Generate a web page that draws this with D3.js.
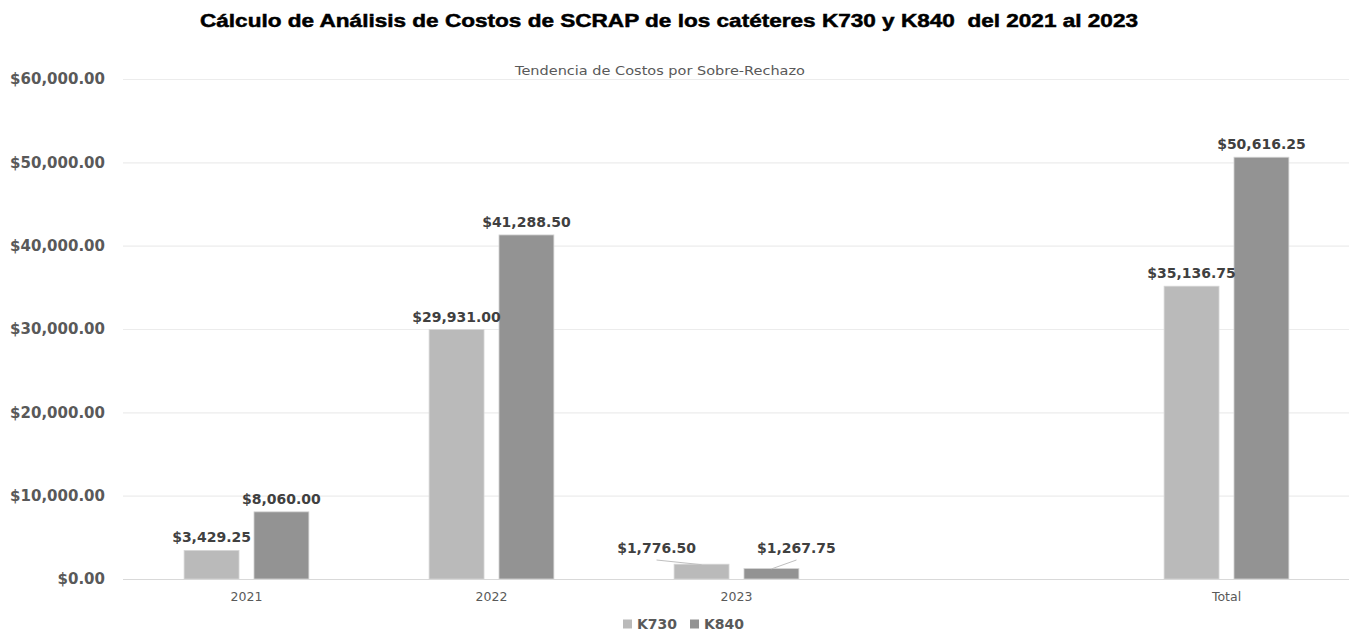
<!DOCTYPE html>
<html>
<head>
<meta charset="utf-8">
<script src="https://cdn.jsdelivr.net/npm/d3@7"></script>
<style>
  body { margin: 0; background: #fff; }
  svg { display: block; }
</style>
</head>
<body>
<div id="chart"></div>
<script>
// data
var categories = ["2021", "2022", "2023", "", "Total"];
var seriesNames = ["K730", "K840"];
var k730Values = [3429.25, 29931.00, 1776.50, null, 35136.75];
var k840Values = [8060.00, 41288.50, 1267.75, null, 50616.25];
var yTicks = [0, 10000, 20000, 30000, 40000, 50000, 60000];

var titleText = "Cálculo de Análisis de Costos de SCRAP de los catéteres K730 y K840  del 2021 al 2023";
var subtitleText = "Tendencia de Costos por Sobre-Rechazo";

var colors = { K730: "#bababa", K840: "#939393" };
// labels that sit beside small bars with a leader line
var leaderShift = { "2023": { K730: -45, K840: 25 } };

var width = 1349, height = 632;
var margin = { top: 79, right: 0, bottom: 53, left: 124 };

var svg = d3.select("#chart").append("svg")
    .attr("width", width).attr("height", height);

var x0 = d3.scaleBand().domain(categories).range([margin.left, width - margin.right]).padding(0);
var x1 = d3.scaleBand().domain(seriesNames).range([0, x0.bandwidth()])
    .paddingInner(0.214).paddingOuter(0.86);
var y = d3.scaleLinear().domain([0, 60000]).range([height - margin.bottom, margin.top]);

var money = function (v) { return "$" + d3.format(",.2f")(v); };

// gridlines
svg.append("g").selectAll("line").data(yTicks).join("line")
    .attr("x1", margin.left - 1).attr("x2", width)
    .attr("y1", function (d) { return y(d) + 0.5; })
    .attr("y2", function (d) { return y(d) + 0.5; })
    .attr("stroke", function (d) { return d === 0 ? "#d9d9d9" : "#ececec"; })
    .attr("stroke-width", 1.2);

// y axis labels
var yAxis = svg.append("g")
    .attr("transform", "translate(" + (margin.left - 19) + ",0)")
    .call(d3.axisLeft(y).tickValues(yTicks).tickFormat(money).tickSize(0).tickPadding(0));
yAxis.select(".domain").remove();
yAxis.selectAll("text")
    .attr("fill", "#595959")
    .style("font-family", "DejaVu Sans")
    .style("font-weight", "bold")
    .style("font-size", "15px");

// x axis labels
var xAxis = svg.append("g")
    .attr("transform", "translate(0," + (height - margin.bottom) + ")")
    .call(d3.axisBottom(x0).tickSize(0).tickPadding(13));
xAxis.select(".domain").remove();
xAxis.selectAll("text")
    .attr("fill", "#595959")
    .style("font-family", "DejaVu Sans")
    .style("font-size", "12.5px");

// bars
var rows = categories.map(function (c, i) {
    return { cat: c, values: [{ s: "K730", v: k730Values[i] }, { s: "K840", v: k840Values[i] }] };
});

var groups = svg.append("g").selectAll("g").data(rows).join("g")
    .attr("transform", function (d) { return "translate(" + x0(d.cat) + ",0)"; });

groups.selectAll("rect")
    .data(function (d) { return d.values.filter(function (e) { return e.v != null; }); })
    .join("rect")
    .attr("x", function (d) { return x1(d.s); })
    .attr("width", x1.bandwidth())
    .attr("y", function (d) { return y(d.v); })
    .attr("height", function (d) { return y(0) - y(d.v); })
    .attr("fill", function (d) { return colors[d.s]; })
    .attr("stroke", "#d6d6d6")
    .attr("stroke-width", 0.8);

// data labels
groups.each(function (row) {
    var g = d3.select(this);
    row.values.forEach(function (e) {
        if (e.v == null) return;
        var cx = x1(e.s) + x1.bandwidth() / 2;
        var top = y(e.v);
        var shift = leaderShift[row.cat] ? leaderShift[row.cat][e.s] : null;
        var lx = cx, ly = top - 8;
        if (shift != null) {
            lx = cx + shift;
            ly = y(0) - 26;
            g.append("line")
                .attr("x1", lx).attr("y1", ly + 7)
                .attr("x2", cx).attr("y2", top + 0.5)
                .attr("stroke", "#bfbfbf").attr("stroke-width", 1);
        }
        g.append("text")
            .attr("x", lx).attr("y", ly)
            .attr("text-anchor", "middle")
            .attr("fill", "#404040")
            .style("font-family", "DejaVu Sans")
            .style("font-weight", "bold")
            .style("font-size", "14px")
            .text(money(e.v));
    });
});

// title
svg.append("text")
    .attr("x", 669).attr("y", 27)
    .attr("text-anchor", "middle")
    .attr("fill", "#000")
    .attr("stroke", "#000")
    .attr("stroke-width", 0.5)
    .style("white-space", "pre")
    .style("font-family", "Liberation Sans")
    .style("font-weight", "bold")
    .style("font-size", "19px")
    .attr("textLength", 938)
    .attr("lengthAdjust", "spacingAndGlyphs")
    .text(titleText);

svg.append("text")
    .attr("x", 660).attr("y", 75)
    .attr("text-anchor", "middle")
    .attr("fill", "#595959")
    .style("font-family", "DejaVu Sans")
    .style("font-size", "12.5px")
    .attr("textLength", 290)
    .attr("lengthAdjust", "spacingAndGlyphs")
    .text(subtitleText);

// legend
var legend = svg.append("g").attr("transform", "translate(623,624)");
var legItems = legend.selectAll("g").data(seriesNames).join("g")
    .attr("transform", function (d, i) { return "translate(" + (i * 67) + ",0)"; });
legItems.append("rect")
    .attr("x", 0).attr("y", -4.5).attr("width", 9).attr("height", 9)
    .attr("fill", function (d) { return colors[d]; });
legItems.append("text")
    .attr("x", 14).attr("y", 5)
    .attr("fill", "#595959")
    .style("font-family", "DejaVu Sans")
    .style("font-weight", "bold")
    .style("font-size", "14px")
    .text(function (d) { return d; });
</script>
</body>
</html>
